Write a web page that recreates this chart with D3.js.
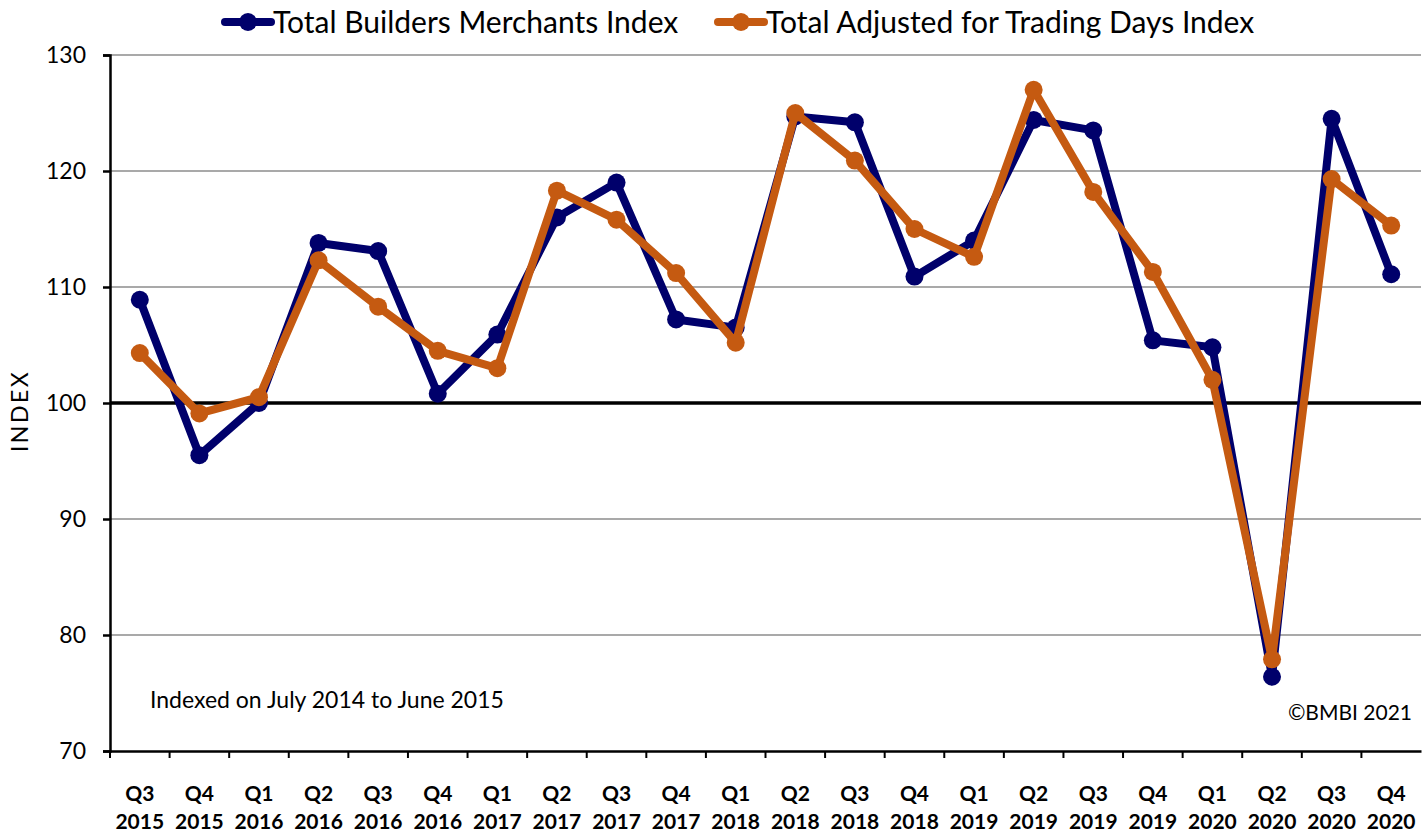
<!DOCTYPE html>
<html>
<head>
<meta charset="utf-8">
<script src="https://cdn.jsdelivr.net/npm/d3@7"></script>
<style>
  body { margin: 0; background: #fff; }
  svg { display: block; }
</style>
</head>
<body>
<svg id="chart" width="1426" height="834"></svg>
<script>
const quarters = ["Q3", "Q4", "Q1", "Q2", "Q3", "Q4", "Q1", "Q2", "Q3", "Q4", "Q1",
  "Q2", "Q3", "Q4", "Q1", "Q2", "Q3", "Q4", "Q1", "Q2", "Q3", "Q4"];
const years = ["2015", "2015", "2016", "2016", "2016", "2016", "2017", "2017", "2017", "2017", "2018",
  "2018", "2018", "2018", "2019", "2019", "2019", "2019", "2020", "2020", "2020", "2020"];
const totalIndex = [108.9, 95.5, 100.0, 113.8, 113.1, 100.8, 105.9, 116.0, 119.0, 107.2, 106.5,
  124.7, 124.2, 110.9, 114.0, 124.4, 123.5, 105.4, 104.8, 76.4, 124.5, 111.1];
const adjustedIndex = [104.3, 99.1, 100.5, 112.3, 108.3, 104.5, 103.0, 118.3, 115.8, 111.2, 105.2,
  125.0, 120.9, 115.0, 112.6, 127.0, 118.2, 111.3, 102.0, 77.9, 119.3, 115.3];
const yTicks = [70, 80, 90, 100, 110, 120, 130];

const blue = "#00006b";
const orange = "#c55a11";
const font = "Lato, 'Open Sans', sans-serif";

const svg = d3.select("#chart");
const margin = {left: 110, right: 5, top: 55, bottom: 83};
const width = 1426, height = 834;

const keys = quarters.map((q, i) => q + " " + years[i]);

const x = d3.scaleBand()
  .domain(keys)
  .range([margin.left, width - margin.right]);
const y = d3.scaleLinear()
  .domain([70, 130])
  .range([height - margin.bottom, margin.top]);

// gridlines
svg.append("g")
  .selectAll("line")
  .data(yTicks.filter(d => d !== 70 && d !== 100))
  .enter()
  .append("line")
    .attr("x1", margin.left)
    .attr("x2", width - margin.right)
    .attr("y1", d => y(d))
    .attr("y2", d => y(d))
    .style("stroke", "#555")
    .style("stroke-width", 1.2);

// y axis
svg.append("g")
  .attr("transform", "translate(" + margin.left + ",0)")
  .call(d3.axisLeft(y).tickValues(yTicks).tickSize(7).tickPadding(17))
  .call(g => g.select(".domain").style("stroke-width", 2.5))
  .call(g => g.selectAll(".tick line").style("stroke-width", 2.5))
  .call(g => g.selectAll("text")
    .style("font-family", font)
    .style("font-size", "23px")
    .style("fill", "#000"));

// x axis
svg.append("g")
  .attr("transform", "translate(0," + y(70) + ")")
  .call(d3.axisBottom(x).tickSize(0).tickFormat(""))
  .call(g => g.select(".domain").style("stroke-width", 2.5));

svg.append("g")
  .selectAll("line")
  .data(keys)
  .enter()
  .append("line")
    .attr("x1", d => x(d))
    .attr("x2", d => x(d))
    .attr("y1", y(70))
    .attr("y2", y(70) + 7)
    .style("stroke", "#000")
    .style("stroke-width", 2);

let xLabels = svg.append("g")
  .selectAll("text")
  .data(keys)
  .enter()
  .append("text")
    .attr("x", d => x(d) + x.bandwidth() / 2)
    .attr("y", 801)
    .style("text-anchor", "middle")
    .style("font-family", font)
    .style("font-size", "21px")
    .style("font-weight", "bold");
xLabels.append("tspan")
  .attr("x", d => x(d) + x.bandwidth() / 2)
  .text((d, i) => quarters[i]);
xLabels.append("tspan")
  .attr("x", d => x(d) + x.bandwidth() / 2)
  .attr("dy", 28)
  .text((d, i) => years[i]);

// baseline at 100
svg.append("line")
  .attr("x1", margin.left)
  .attr("x2", width - margin.right)
  .attr("y1", y(100))
  .attr("y2", y(100))
  .style("stroke", "#000")
  .style("stroke-width", 3.5);

// series
function drawSeries(values, color) {
  let line = d3.line()
    .x((d, i) => x(keys[i]) + x.bandwidth() / 2)
    .y(d => y(d));
  svg.append("path")
    .datum(values)
    .attr("d", line)
    .style("fill", "none")
    .style("stroke", color)
    .style("stroke-width", 8)
    .style("stroke-linejoin", "round");
  svg.append("g")
    .selectAll("circle")
    .data(values)
    .enter()
    .append("circle")
      .attr("cx", (d, i) => x(keys[i]) + x.bandwidth() / 2)
      .attr("cy", d => y(d))
      .attr("r", 9)
      .style("fill", color);
}
drawSeries(totalIndex, blue);
drawSeries(adjustedIndex, orange);

// y axis title
svg.append("text")
  .attr("transform", "translate(28,411) rotate(-90)")
  .text("INDEX")
  .style("text-anchor", "middle")
  .style("font-family", font)
  .style("font-size", "23px")
  .style("letter-spacing", "2.5px");

// notes
svg.append("text")
  .attr("x", 150)
  .attr("y", 708)
  .text("Indexed on July 2014 to June 2015")
  .style("font-family", font)
  .style("font-size", "23px");
svg.append("text")
  .attr("x", 1412)
  .attr("y", 720)
  .text("\u00A9BMBI 2021")
  .style("text-anchor", "end")
  .style("font-family", font)
  .style("font-size", "21px");

// legend
const legendItems = [
  {name: "Total Builders Merchants Index", color: blue, x: 225},
  {name: "Total Adjusted for Trading Days Index", color: orange, x: 718}
];
let legend = svg.append("g")
  .selectAll("g")
  .data(legendItems)
  .enter()
  .append("g")
    .attr("transform", d => "translate(" + d.x + ",22)");
legend.append("line")
  .attr("x1", 0)
  .attr("x2", 46)
  .style("stroke", d => d.color)
  .style("stroke-width", 8)
  .style("stroke-linecap", "round");
legend.append("circle")
  .attr("cx", 23)
  .attr("r", 9)
  .style("fill", d => d.color);
legend.append("text")
  .attr("x", 48)
  .attr("y", 11)
  .text(d => d.name)
  .style("font-family", font)
  .style("font-size", "30px");
</script>
</body>
</html>
